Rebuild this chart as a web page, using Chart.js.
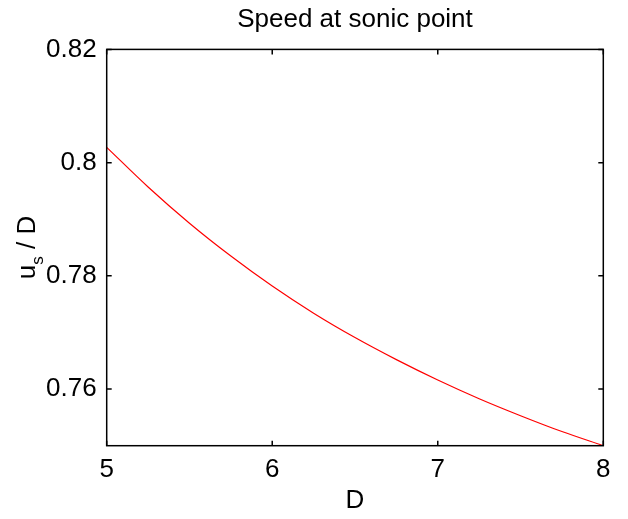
<!DOCTYPE html>
<html>
<head>
<meta charset="utf-8">
<script src="https://cdn.jsdelivr.net/npm/chart.js@4"></script>
<style>
  body { margin: 0; background: #fff; }
  #wrap { width: 628px; height: 519px; }
</style>
</head>
<body>
<div id="wrap"><canvas id="sonic" width="628" height="519"></canvas></div>
<script>
// values
const D_VALUES = [5, 5.25, 5.5, 5.75, 6, 6.25, 6.5, 6.75, 7, 7.25, 7.5, 7.75, 8];
const US_OVER_D = [0.8027, 0.7957, 0.7893, 0.7835, 0.7782, 0.7734, 0.7691, 0.7652, 0.7616, 0.7583, 0.7553, 0.7525, 0.7500];
const X_TICKS = [5, 6, 7, 8];
const Y_TICKS = [0.76, 0.78, 0.8, 0.82];
const TITLE = 'Speed at sonic point';

const FONT = "'Liberation Sans', Arial, sans-serif";
const SIZE = 26;

// box round the axes + matlab style inward ticks, title and y label
const boxPlugin = {
    id: 'box',
    afterDatasetsDraw(chart) {
        const ctx = chart.ctx;
        const a = chart.chartArea;
        const xs = chart.scales.x, ys = chart.scales.y;
        const len = 5;
        ctx.save();
        ctx.strokeStyle = '#000';
        ctx.lineWidth = 1.5;
        ctx.strokeRect(a.left, a.top, a.right - a.left, a.bottom - a.top);
        ctx.beginPath();
        X_TICKS.forEach(v => {
            const px = xs.getPixelForValue(v);
            ctx.moveTo(px, a.bottom); ctx.lineTo(px, a.bottom - len);
            ctx.moveTo(px, a.top); ctx.lineTo(px, a.top + len);
        });
        Y_TICKS.forEach(v => {
            const py = ys.getPixelForValue(v);
            ctx.moveTo(a.left, py); ctx.lineTo(a.left + len, py);
            ctx.moveTo(a.right, py); ctx.lineTo(a.right - len, py);
        });
        ctx.stroke();
        ctx.restore();
    },
    afterDraw(chart) {
        const ctx = chart.ctx;
        const a = chart.chartArea;
        const big = SIZE + 'px ' + FONT, small = '17px ' + FONT;
        ctx.save();
        ctx.fillStyle = '#000';
        // title centred over the axes
        ctx.font = big;
        ctx.textAlign = 'center';
        ctx.textBaseline = 'alphabetic';
        ctx.fillText(TITLE, (a.left + a.right) / 2, 26.5);

        // y label with subscript: u_s / D
        ctx.translate(35, (a.top + a.bottom) / 2);
        ctx.rotate(-Math.PI / 2);
        ctx.textAlign = 'left';
        ctx.font = big;
        const wu = ctx.measureText('u').width;
        const wr = ctx.measureText(' / D').width;
        ctx.font = small;
        const ws = ctx.measureText('s').width;
        const x0 = -(wu + ws + wr) / 2;
        ctx.font = big;
        ctx.fillText('u', x0, 0);
        ctx.font = small;
        ctx.fillText('s', x0 + wu, 8);
        ctx.font = big;
        ctx.fillText(' / D', x0 + wu + ws, 0);
        ctx.restore();
    }
};

const ctx = document.getElementById('sonic').getContext('2d');
new Chart(ctx, {
    type: 'line',
    data: {
        datasets: [{
            label: 'u_s / D',
            data: D_VALUES.map((d, i) => ({ x: d, y: US_OVER_D[i] })),
            borderColor: '#ff0000',
            borderWidth: 1.2,
            pointRadius: 0,
            cubicInterpolationMode: 'monotone',
            fill: false
        }]
    },
    options: {
        responsive: false,
        animation: false,
        layout: { padding: { left: 0, right: 24.7, top: 49.4, bottom: 0 } },
        plugins: {
            legend: { display: false },
            tooltip: { enabled: false },
            title: { display: false }
        },
        scales: {
            x: {
                type: 'linear',
                min: 5, max: 8,
                afterBuildTicks: s => { s.ticks = X_TICKS.map(v => ({ value: v })); },
                afterFit: s => { s.height = 519 - 445.7; },
                grid: { display: false, drawTicks: false },
                border: { display: false },
                ticks: { color: '#000', padding: 9, font: { family: FONT, size: SIZE } },
                title: {
                    display: true, text: 'D', color: '#000',
                    font: { family: FONT, size: SIZE },
                    padding: { top: 0, bottom: 3 }
                }
            },
            y: {
                type: 'linear',
                min: 0.75, max: 0.82,
                afterBuildTicks: s => { s.ticks = Y_TICKS.map(v => ({ value: v })); },
                afterFit: s => { s.width = 106.7; },
                grid: { display: false, drawTicks: false },
                border: { display: false },
                ticks: {
                    color: '#000', padding: 10,
                    font: { family: FONT, size: SIZE },
                    callback: v => String(Math.round(v * 100) / 100)
                }
            }
        }
    },
    plugins: [boxPlugin]
});
</script>
</body>
</html>
